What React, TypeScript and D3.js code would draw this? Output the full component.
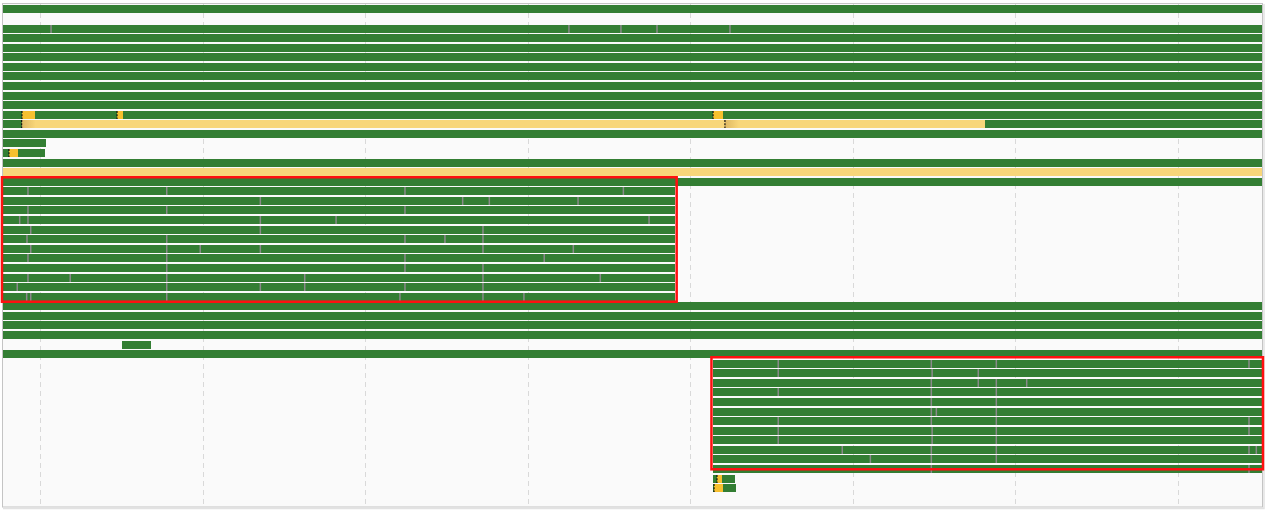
import { useEffect, useRef } from "react"
import * as d3 from "d3"

// time axis in ms, grid every 100
const START = -23
const END = 752
const gridTicks = [0, 100, 200, 300, 400, 500, 600, 700]
const rowCount = 53

const fullRows = [0, 2, 3, 4, 5, 6, 7, 8, 9, 10, 11, 13, 16, 18, 31, 32, 33, 34, 36]
const leftGroupRows = [19, 20, 21, 22, 23, 24, 25, 26, 27, 28, 29, 30]
const rightGroupRows = [37, 38, 39, 40, 41, 42, 43, 44, 45, 46, 47, 48]

// [row, start, end]
const okSpans: [number, number, number][] = [
  [12, START, -11.3],
  [12, 581.5, END],
  [14, START, 3.7],
  [15, START, 3.1],
  [35, 50.5, 68.3],
  [49, 414.2, 427.7],
  [50, 414.2, 428.3],
]
const warnSpans: [number, number, number][] = [
  [11, -11.1, -3.1],
  [11, 47.4, 51.1],
  [11, 414.2, 420.3],
  [15, -19.1, -13.5],
  [49, 416.6, 419.7],
  [50, 414.8, 420.3],
]
const idleSpans: [number, number, number][] = [
  [12, -11.3, 581.5],
  [17, START, END],
]
// [row, t]
const flagMarks: [number, number][] = [
  [11, -11.1],
  [11, 47.4],
  [11, 414.2],
  [12, -11.3],
  [12, 421.5],
  [15, -19.1],
  [49, 416.6],
  [50, 414.8],
]
const fadeMarks: [number, number][] = [
  [12, -11.3],
  [12, 421.5],
]
const splitMarks: [number, number[]][] = [
  [2, [6.8, 325.5, 357.5, 379.7, 424.6]],
  [19, [-7.4, 78, 224.6, 359]],
  [20, [135.6, 260.1, 276.5, 331.1]],
  [21, [-7.4, 78, 224.6]],
  [22, [-12.5, -7.4, 135.6, 182.2, 374.8]],
  [23, [-5.7, 135.6, 272.6]],
  [24, [-8, 78, 224.6, 249.2, 272.6]],
  [25, [-5.7, 78, 98.6, 135.6, 272.6, 328.2]],
  [26, [-7.4, 78, 224.6, 310.3]],
  [27, [78, 224.6, 272.6]],
  [28, [-7.4, 18.6, 78, 162.9, 272.6, 344.8]],
  [29, [-14, 78, 135.6, 162.9, 224.6, 272.6]],
  [30, [-8.2, -5.7, 78, 221.5, 272.6, 297.8]],
  [37, [454.3, 548.5, 588.5, 744]],
  [38, [454.3, 549, 577.4]],
  [39, [548.5, 577.4, 588.5, 607.2]],
  [40, [454.3, 548.5, 588.5]],
  [41, [548.5, 588.5]],
  [42, [548.5, 551.6, 588.5]],
  [43, [454.3, 548.5, 588.5, 744]],
  [44, [454.3, 549, 588.5, 744]],
  [45, [454.3, 549, 588.5]],
  [46, [493.7, 548.5, 588.5, 744, 748.5]],
  [47, [511, 548.5, 588.5]],
  [48, [548.5, 744]],
]
// [rowFrom, rowTo, start, end]
const highlightBoxes: [number, number, number, number][] = [
  [18, 31, -23.4, 391.8],
  [36.8, 48.5, 413.2, 752.6],
]

export default function App() {
  const svgRef = useRef<SVGSVGElement | null>(null)

  useEffect(() => {
    if (!svgRef.current) return
    const svg = d3.select(svgRef.current)
    svg.selectAll("*").remove()

    const width = 1267
    const height = 512

    const x = d3.scaleLinear().domain([0, 700]).range([40, 1177.5])
    const yRaw = d3.scaleLinear().domain([0, rowCount]).range([5.4, 5.4 + rowCount * 9.575])
    const y = (r: number) => Math.round(yRaw(r))
    const barH = 8

    const green = "#337e33"
    const amber = "#f7c02f"
    const pale = "#f8d67a"

    const defs = svg.append("defs")
    const grad = defs.append("linearGradient").attr("id", "fade").attr("x1", 0).attr("x2", 1)
    grad.append("stop").attr("offset", 0).attr("stop-color", "#c9a050").attr("stop-opacity", 0.55)
    grad.append("stop").attr("offset", 1).attr("stop-color", "#c9a050").attr("stop-opacity", 0)

    // background + frame
    svg.append("rect").attr("width", width).attr("height", height).attr("fill", "#ffffff")
    svg
      .append("rect")
      .attr("x", 2.5)
      .attr("y", 3.5)
      .attr("width", 1260)
      .attr("height", 503.5)
      .attr("fill", "#fafafa")
      .attr("stroke", "#c4c4c4")
      .attr("stroke-width", 1)
    svg
      .append("path")
      .attr("d", `M1264,4V508.5H3`)
      .attr("fill", "none")
      .attr("stroke", "#e2e2e2")
      .attr("stroke-width", 1.5)

    // grid
    svg
      .selectAll(".grid")
      .data(gridTicks)
      .enter()
      .append("line")
      .attr("x1", (d) => Math.round(x(d)) + 0.5)
      .attr("x2", (d) => Math.round(x(d)) + 0.5)
      .attr("y1", 4)
      .attr("y2", 506)
      .attr("stroke", "#d9d9d9")
      .attr("stroke-width", 1)
      .attr("stroke-dasharray", "5,4")

    // build green spans
    const spans: [number, number, number][] = [
      ...fullRows.map((r) => [r, START, END] as [number, number, number]),
      ...leftGroupRows.map((r) => [r, START, 391] as [number, number, number]),
      ...rightGroupRows.map((r) => [r, 414, END] as [number, number, number]),
      ...okSpans,
    ]

    const drawSpans = (data: [number, number, number][], fill: string) => {
      svg
        .append("g")
        .attr("shape-rendering", "crispEdges")
        .selectAll("rect")
        .data(data)
        .enter()
        .append("rect")
        .attr("x", (d) => x(d[1]))
        .attr("y", (d) => y(d[0]))
        .attr("width", (d) => x(d[2]) - x(d[1]))
        .attr("height", barH)
        .attr("fill", fill)
    }

    drawSpans(spans, green)
    drawSpans(idleSpans, pale)
    drawSpans(warnSpans, amber)

    // fade after markers on idle bars
    svg
      .append("g")
      .selectAll("rect")
      .data(fadeMarks)
      .enter()
      .append("rect")
      .attr("x", (d) => x(d[1]))
      .attr("y", (d) => y(d[0]))
      .attr("width", 14)
      .attr("height", barH)
      .attr("fill", "url(#fade)")

    // separators
    const splits = splitMarks.flatMap(([r, ts]) => ts.map((t) => [r, t] as [number, number]))
    svg
      .append("g")
      .selectAll("rect")
      .data(splits)
      .enter()
      .append("rect")
      .attr("x", (d) => x(d[1]) - 0.75)
      .attr("y", (d) => y(d[0]))
      .attr("width", 1.5)
      .attr("height", barH)
      .attr("fill", "#8a8a8a")

    // dotted flags
    svg
      .append("g")
      .selectAll("line")
      .data(flagMarks)
      .enter()
      .append("line")
      .attr("x1", (d) => x(d[1]))
      .attr("x2", (d) => x(d[1]))
      .attr("y1", (d) => y(d[0]))
      .attr("y2", (d) => y(d[0]) + barH)
      .attr("stroke", "#111")
      .attr("stroke-width", 1.2)
      .attr("stroke-dasharray", "2,1.2")

    // highlight boxes
    svg
      .append("g")
      .selectAll("rect")
      .data(highlightBoxes)
      .enter()
      .append("rect")
      .attr("x", (d) => x(d[2]))
      .attr("y", (d) => yRaw(d[0]) - 0.5)
      .attr("width", (d) => x(d[3]) - x(d[2]))
      .attr("height", (d) => yRaw(d[1]) - yRaw(d[0]))
      .attr("fill", "none")
      .attr("stroke", "#ff1010")
      .attr("stroke-width", 2.5)
  }, [])

  return (
    <svg
      ref={svgRef}
      width={1267}
      height={512}
      style={{ position: "fixed", left: 0, top: 0, display: "block" }}
    ></svg>
  )
}
